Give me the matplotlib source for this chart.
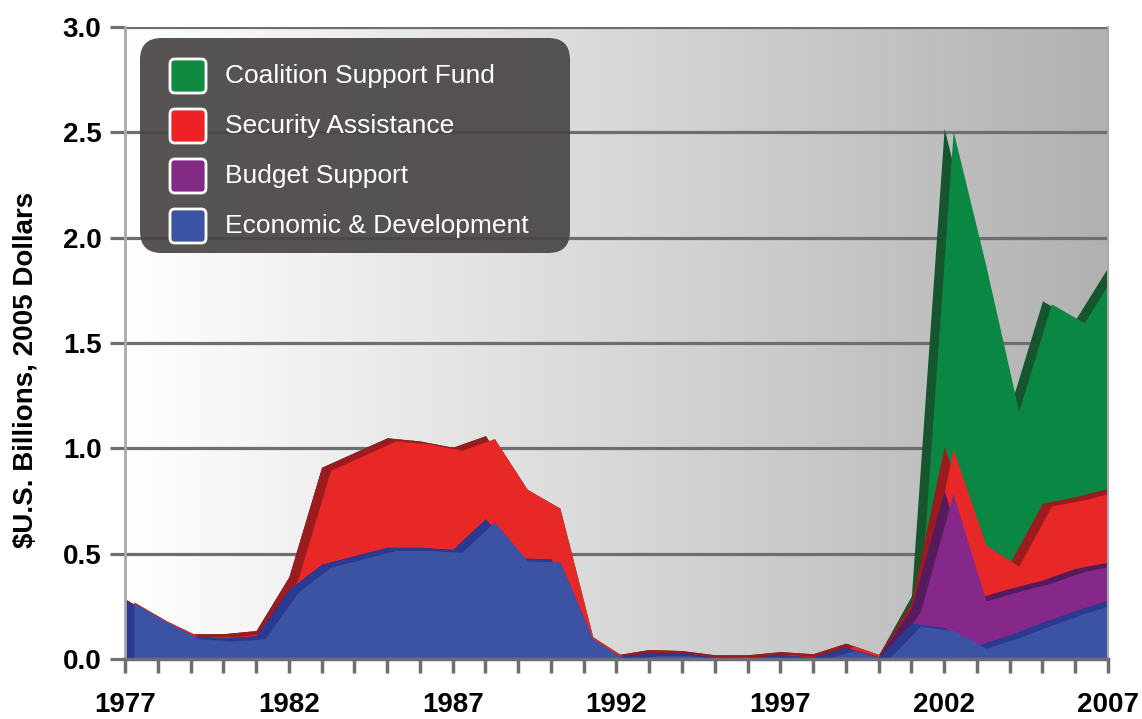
import numpy as np
import matplotlib
matplotlib.use("Agg")
import matplotlib.pyplot as plt
from matplotlib.colors import LinearSegmentedColormap
from matplotlib.patches import FancyBboxPatch
from matplotlib.ticker import MultipleLocator, FormatStrFormatter
import matplotlib.transforms as mtransforms

plt.rcParams['font.family'] = ['Liberation Sans', 'DejaVu Sans']

# данные (млрд долларов США, в ценах 2005 г.)
years = np.arange(1977, 2008)
econ = [0.28, 0.19, 0.11, 0.10, 0.11, 0.33, 0.45, 0.49, 0.53, 0.53, 0.52,
        0.665, 0.48, 0.475, 0.11, 0.01, 0.03, 0.03, 0.01, 0.005, 0.02,
        0.01, 0.055, 0.01, 0.17, 0.15, 0.065, 0.115, 0.175, 0.23, 0.28]
budget = [0.0] * 24 + [0.07, 0.65, 0.225, 0.22, 0.20, 0.20, 0.18]
security = [0.005, 0.005, 0.01, 0.02, 0.025, 0.06, 0.46, 0.49, 0.52, 0.505, 0.485,
            0.395, 0.34, 0.255, 0.01, 0.01, 0.015, 0.01, 0.01, 0.015, 0.015,
            0.015, 0.02, 0.01, 0.03, 0.21, 0.265, 0.12, 0.365, 0.34, 0.35]
csf = [0.0] * 24 + [0.03, 1.51, 1.325, 0.735, 0.96, 0.84, 1.05]
tick_years = [1977, 1982, 1987, 1992, 1997, 2002, 2007]

labels = ["Coalition Support Fund", "Security Assistance", "Budget Support",
          "Economic & Development"]
front_colors = ["#0b8744", "#e82827", "#86288a", "#3c53a4"]
dark_colors = ["#17552e", "#9b1b1f", "#561b5c", "#2b3990"]
legend_colors = ["#0f8a3f", "#ee2224", "#822a83", "#3b54a4"]

# накопленные суммы сверху вниз
c_econ = np.array(econ)
c_budget = c_econ + np.array(budget)
c_security = c_budget + np.array(security)
c_csf = c_security + np.array(csf)
tops = [c_csf, c_security, c_budget, c_econ]

fig = plt.figure(figsize=(11.42, 7.19), dpi=100)
ax = fig.add_axes([125 / 1142, 60 / 719, 983 / 1142, 632 / 719])

# фон с градиентом
bg = LinearSegmentedColormap.from_list("bg", ["#ffffff", "#b1b1b1"])
ax.imshow(np.linspace(0, 1, 256).reshape(1, -1), cmap=bg, extent=[0, 1, 0, 1],
          transform=ax.transAxes, aspect='auto', zorder=0)

ax.yaxis.set_major_locator(MultipleLocator(0.5))
ax.grid(axis='y', color='#6d6e71', linewidth=2.3, zorder=1)
ax.set_axisbelow(True)

# "объемные" слои: тёмная задняя грань и сдвинутая передняя
front = mtransforms.offset_copy(ax.transData, fig=fig, x=9, y=-3, units='dots')
z = 2
for top, fc, dc in zip(tops, front_colors, dark_colors):
    ax.fill_between(years, top, 0, color=dc, linewidth=0, zorder=z)
    ax.fill_between(years, top, 0, color=fc, linewidth=0, zorder=z + 1,
                    transform=front)
    z += 2

ax.set_xlim(1977, 2007)
ax.set_ylim(0, 3.0)

# оси и подписи
ax.set_xticks(tick_years)
ax.xaxis.set_minor_locator(MultipleLocator(1))
ax.tick_params(axis='x', which='both', length=10, width=2.5, color='#6d6e71',
               direction='out', pad=14)
ax.tick_params(axis='y', length=11, width=2.3, color='#6d6e71', pad=6)
ax.yaxis.set_major_formatter(FormatStrFormatter('%.1f'))
for lab in ax.get_xticklabels() + ax.get_yticklabels():
    lab.set_fontsize(20)
    lab.set_fontweight('bold')

ax.spines['top'].set_visible(False)
ax.spines['left'].set_color('#a7a9ac')
ax.spines['left'].set_linewidth(2)
ax.spines['right'].set_color('#a7a9ac')
ax.spines['right'].set_linewidth(1.5)
ax.spines['bottom'].set_color('#6d6e71')
ax.spines['bottom'].set_linewidth(2.5)
for s in ax.spines.values():
    s.set_zorder(20)

fig.text(0.022, 0.485, "$U.S. Billions, 2005 Dollars", rotation=90,
         ha='center', va='center', fontsize=20, fontweight='bold',
         family=['Liberation Sans Narrow', 'Liberation Sans', 'DejaVu Sans'])

# легенда в тёмной скруглённой рамке
aspect = 983 / 632
box = FancyBboxPatch((15 / 983, (659 - 253) / 632), 430 / 983, 215 / 632,
                     boxstyle="round,pad=0,rounding_size=0.022",
                     mutation_aspect=aspect, transform=ax.transAxes,
                     facecolor='#4a4646', edgecolor='none', alpha=0.93, zorder=30)
ax.add_patch(box)
for i, (lab, col) in enumerate(zip(labels, legend_colors)):
    yc = (659 - (76 + 50 * i)) / 632
    sq = FancyBboxPatch((45 / 983, yc - 17 / 632), 36 / 983, 34 / 632,
                        boxstyle="round,pad=0,rounding_size=0.005",
                        mutation_aspect=aspect, transform=ax.transAxes,
                        facecolor=col, edgecolor='white', linewidth=2, zorder=31)
    ax.add_patch(sq)
    ax.text(100 / 983, yc, lab, transform=ax.transAxes, color='white',
            fontsize=19, va='center', ha='left', zorder=32)

fig.savefig("out.png", dpi=100)
